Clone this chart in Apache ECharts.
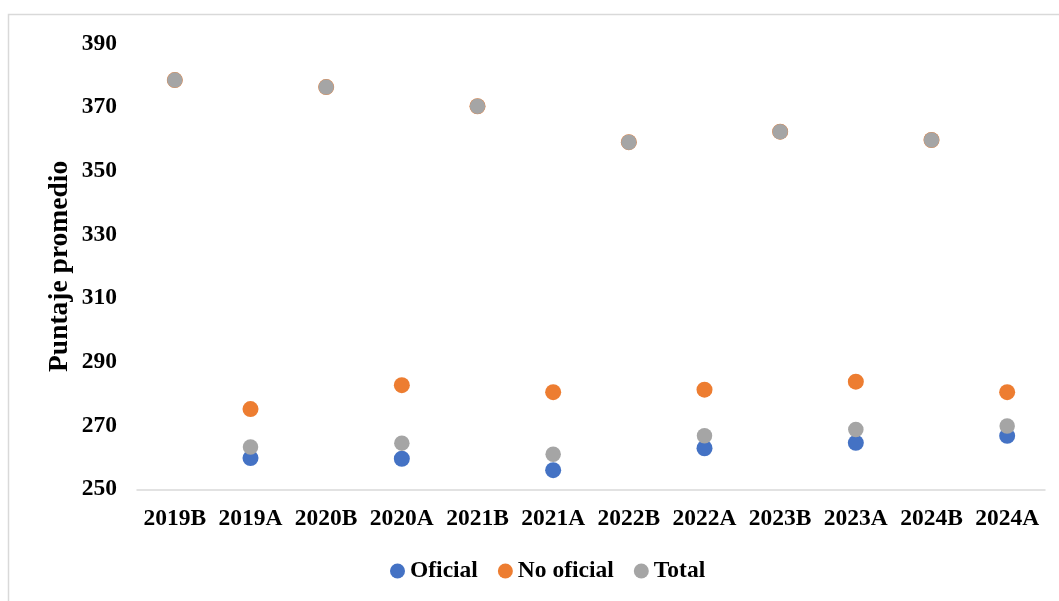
<!DOCTYPE html>
<html>
<head>
<meta charset="utf-8">
<script src="https://cdn.jsdelivr.net/npm/echarts@6/dist/echarts.min.js"></script>
<style>
  html, body { margin: 0; padding: 0; background: #fff; }
  #container { width: 1059px; height: 601px; }
</style>
</head>
<body>
<div id="container"></div>
<script>
// datos
var periodos = ['2019B', '2019A', '2020B', '2020A', '2021B', '2021A', '2022B', '2022A', '2023B', '2023A', '2024B', '2024A'];
var oficial = [null, 259.8, null, 259.6, null, 256.0, null, 262.9, null, 264.6, null, 266.8];
var noOficial = [378.5, 275.2, 376.3, 282.7, 370.3, 280.5, 359.0, 281.3, 362.3, 283.8, 359.7, 280.5];
var total = [378.5, 263.3, 376.3, 264.5, 370.3, 261.0, 359.0, 266.8, 362.3, 268.8, 359.7, 269.9];

var fuente = '"Liberation Serif", "Times New Roman", serif';

var myChart = echarts.init(document.getElementById('container'));

var option = {
    animation: false,
    backgroundColor: '#fff',
    graphic: [
        {
            type: 'rect',
            shape: { x: 8.5, y: 14.5, width: 1060, height: 600 },
            style: { fill: 'none', stroke: '#d9d9d9', lineWidth: 1.5 },
            silent: true
        }
    ],
    grid: {
        top: 43.5,
        left: 137,
        right: 14,
        bottom: 111.7
    },
    legend: {
        bottom: 13,
        left: 385,
        icon: 'circle',
        itemWidth: 15,
        itemHeight: 15,
        itemGap: 20,
        textStyle: {
            fontFamily: fuente,
            fontWeight: 'bold',
            fontSize: 23.5,
            color: '#000'
        },
        data: ['Oficial', 'No oficial', 'Total']
    },
    xAxis: {
        type: 'category',
        data: periodos,
        axisLine: { lineStyle: { color: '#d9d9d9', width: 1.5 } },
        axisTick: { show: false },
        axisLabel: {
            interval: 0,
            margin: 18,
            fontFamily: fuente,
            fontWeight: 'bold',
            fontSize: 23.5,
            color: '#000'
        }
    },
    yAxis: {
        type: 'value',
        min: 250,
        max: 390,
        interval: 20,
        name: 'Puntaje promedio',
        nameLocation: 'middle',
        nameGap: 63,
        nameMoveOverlap: false,
        nameRotate: 90,
        nameTextStyle: {
            fontFamily: fuente,
            fontWeight: 'bold',
            fontSize: 27.5,
            color: '#000'
        },
        axisLine: { show: false },
        axisTick: { show: false },
        splitLine: { show: false },
        axisLabel: {
            margin: 20,
            fontFamily: fuente,
            fontWeight: 'bold',
            fontSize: 23.5,
            color: '#000'
        }
    },
    series: [
        {
            name: 'Oficial',
            type: 'scatter',
            symbolSize: 16,
            itemStyle: { color: '#4472C4', opacity: 1 },
            data: oficial
        },
        {
            name: 'No oficial',
            type: 'scatter',
            symbolSize: 16,
            itemStyle: { color: '#ED7D31', opacity: 1 },
            data: noOficial
        },
        {
            name: 'Total',
            type: 'scatter',
            symbolSize: 15.5,
            itemStyle: { color: '#A5A5A5', opacity: 1 },
            data: total
        }
    ]
};
myChart.setOption(option);
</script>
</body>
</html>
